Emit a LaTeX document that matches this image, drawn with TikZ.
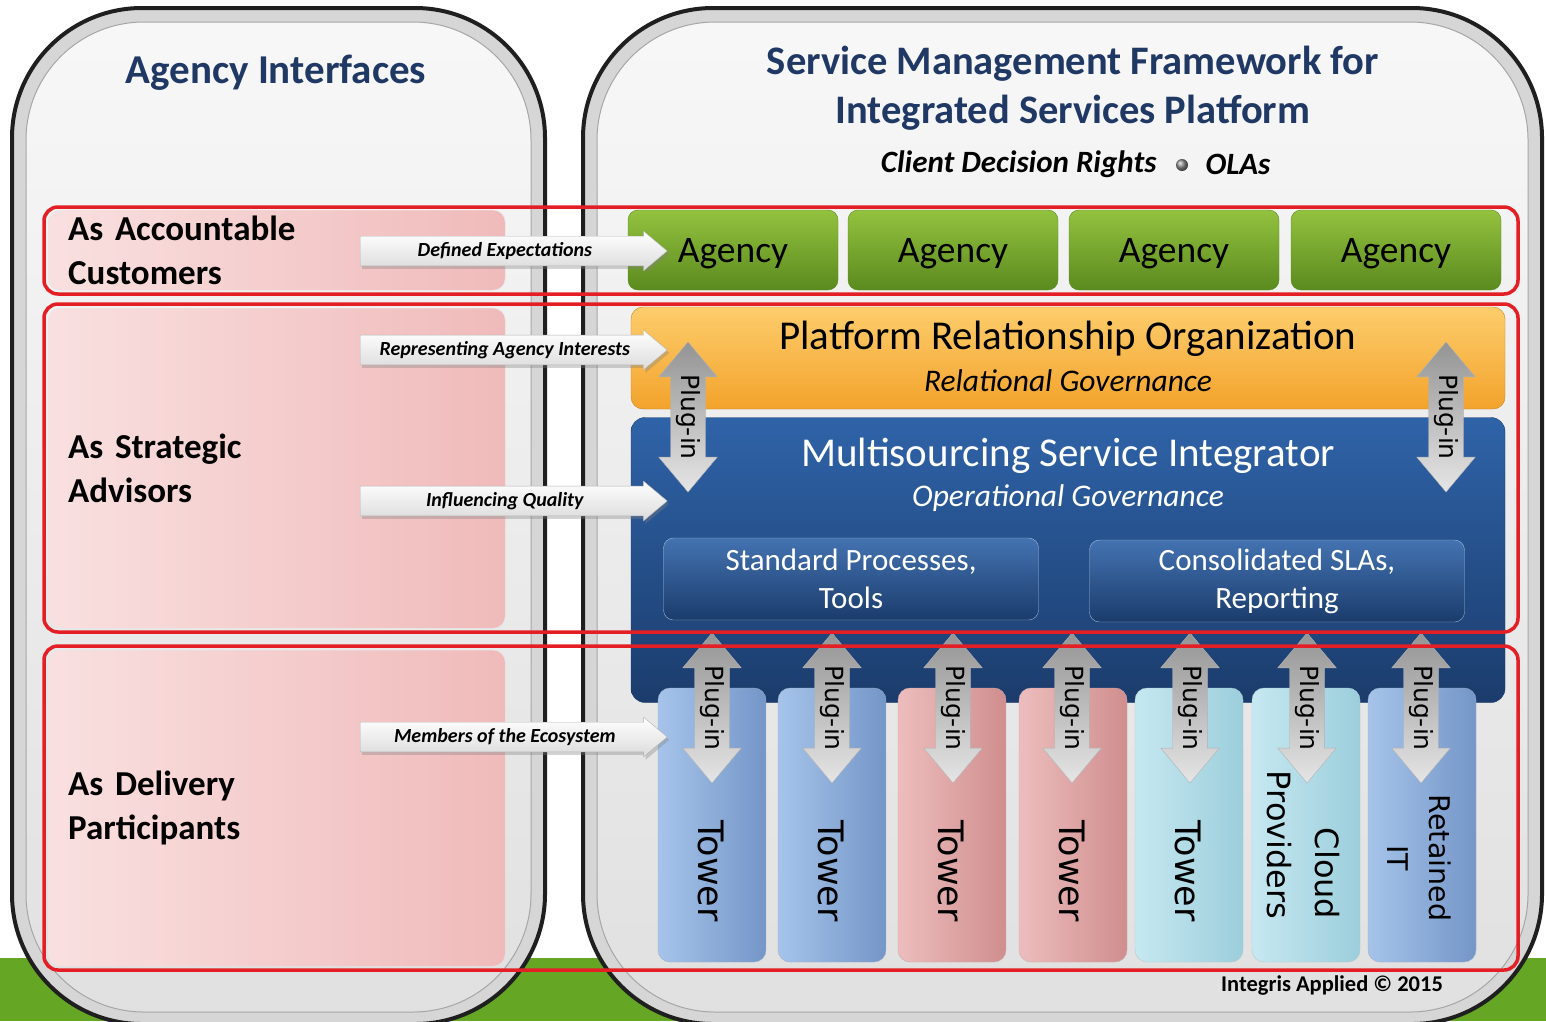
\documentclass[tikz,border=0pt]{standalone}
\usepackage{fontspec}
\setmainfont{Carlito}
\newfontfamily\towerfont{DejaVu Sans}
\usetikzlibrary{shapes.arrows,shadows}

\definecolor{titleblue}{HTML}{1F3864}
\definecolor{bandgreen}{HTML}{65A725}
\definecolor{framered}{HTML}{E31E24}
\definecolor{pinklight}{HTML}{F9E0E0}
\definecolor{pinkdark}{HTML}{F0BABA}
\definecolor{agencylight}{HTML}{93C23F}
\definecolor{agencydark}{HTML}{5B8A1F}
\definecolor{orangetop}{HTML}{FDCD6C}
\definecolor{orangebot}{HTML}{F3A32C}
\definecolor{msitop}{HTML}{2F63A8}
\definecolor{msibot}{HTML}{1B3C6C}
\definecolor{bluel}{HTML}{A6C4EA}
\definecolor{bluer}{HTML}{7496C8}
\definecolor{pinkl}{HTML}{EDBDBD}
\definecolor{pinkr}{HTML}{D08E8E}
\definecolor{cyanl}{HTML}{C6E8F1}
\definecolor{cyanr}{HTML}{9CCEDC}

\begin{document}
\begin{tikzpicture}[x=1pt, y=-1pt,
    panel/.style={draw=black!88, line width=4pt, rounded corners=130pt, fill=black!16},
    panelrim/.style={draw=black!35, line width=1pt, rounded corners=118pt, top color=black!3, bottom color=black!12},
    redframe/.style={draw=framered, line width=3.5pt, rounded corners=14pt},
    rolebox/.style={anchor=north west, rounded corners=12pt, draw=black!10, left color=pinklight, right color=pinkdark,
        text width=417pt, inner xsep=20pt, align=left, font=\fontsize{35}{44}\selectfont\bfseries},
    flowarrow/.style={single arrow, anchor=tail, minimum height=307pt, single arrow head extend=5pt,
        single arrow tip angle=80, inner ysep=6pt, draw=black!30, top color=white, bottom color=black!14,
        drop shadow={shadow xshift=2pt, shadow yshift=-3pt, opacity=.35},
        font=\fontsize{20}{22}\selectfont\bfseries\itshape},
    agencybox/.style={minimum width=210pt, minimum height=80pt, rounded corners=10pt, draw=agencydark,
        top color=agencylight, bottom color=agencydark, text depth=0pt, font=\fontsize{37.5}{40}\selectfont},
    subbox/.style={minimum width=375pt, minimum height=82pt, rounded corners=10pt, draw=white!55!msitop,
        top color=msitop!90!white, bottom color=msibot, text=white, align=center, font=\fontsize{31}{38}\selectfont},
    towerbox/.style={minimum width=108pt, minimum height=274pt, rounded corners=12pt, draw=#1r!80!black!60,
        left color=#1l, right color=#1r},
    towertext/.style={rotate=-90, align=right, font=\towerfont\fontsize{32}{48}\selectfont},
    plugin/.style={double arrow, rotate=-90, minimum height=150pt, double arrow head extend=12pt,
        double arrow tip angle=80, inner ysep=5pt, draw=black!30, top color=black!42, bottom color=black!10,
        font=\towerfont\fontsize{25}{26}\selectfont}
  ]
  \useasboundingbox (0,0) rectangle (1546,1021);
  \clip (0,0) rectangle (1546,1021);

  \fill[bandgreen] (0,958) rectangle (1546,1021);

  \draw[panel] (12,8) rectangle (545,1024);
  \draw[panelrim] (26,22) rectangle (531,1012);
  \draw[panel] (583,8) rectangle (1542,1024);
  \draw[panelrim] (597,22) rectangle (1528,1012);

  \node[font=\fontsize{41}{44}\selectfont\bfseries, text=titleblue] (leftttl) at (276,73) {Agency Interfaces};
  \node[font=\fontsize{40.5}{49}\selectfont\bfseries, text=titleblue, align=center] (rightttl) at (1073,88)
      {Service Management Framework for\\Integrated Services Platform};
  \node[font=\fontsize{31}{32}\selectfont\bfseries\itshape, anchor=east] (rights) at (1160,164) {Client Decision Rights};
  \node[circle, minimum size=12pt, inner sep=0pt, ball color=black!45] (dot) at (1182,165) {};
  \node[font=\fontsize{31}{32}\selectfont\bfseries\itshape, anchor=west] (olas) at (1202,164) {OLAs};

  \node[rolebox, minimum height=80pt] (customers) at (48,210) {As Accountable\\Customers};
  \node[rolebox, minimum height=320pt] (advisors) at (48,308) {As Strategic\\Advisors};
  \node[rolebox, minimum height=316pt] (participants) at (48,650) {As Delivery\\Participants};

  \foreach \i/\x in {1/733, 2/953, 3/1174, 4/1396}
    \node[agencybox] (agency\i) at (\x,250) {Agency};

  \node[minimum width=874pt, minimum height=102pt, rounded corners=12pt, draw=orangebot!80!black,
      top color=orangetop, bottom color=orangebot] (pro) at (1068,358) {};
  \node[font=\fontsize{41}{44}\selectfont] (protitle) at (1068,339) {Platform Relationship Organization};
  \node[font=\fontsize{31.5}{33}\selectfont\itshape] (prosub) at (1068,381) {Relational Governance};

  \node[minimum width=874pt, minimum height=285pt, rounded corners=14pt, draw=msibot,
      top color=msitop, bottom color=msibot] (msi) at (1068,560) {};
  \node[font=\fontsize{41}{44}\selectfont, text=white] (msititle) at (1068,456) {Multisourcing Service Integrator};
  \node[font=\fontsize{31.5}{33}\selectfont\itshape, text=white] (msisub) at (1068,498) {Operational Governance};
  \node[subbox] (processes) at (851,579) {Standard Processes,\\Tools};
  \node[subbox] (slas) at (1277,581) {Consolidated SLAs,\\Reporting};

  \foreach \i/\x/\c in {1/712/blue, 2/832/blue, 3/952/pink, 4/1073/pink, 5/1189/cyan, 6/1306/cyan, 7/1422/blue}
    \node[towerbox=\c] (tower\i) at (\x,825) {};
  \foreach \i/\x in {1/711, 2/831, 3/951, 4/1072, 5/1188}
    \node[towertext, font=\towerfont\fontsize{35}{40}\selectfont] at (\x,871) {Tower};
  \node[towertext] (cloud) at (1303,845) {Cloud\\Providers};
  \node[towertext, align=center, font=\towerfont\fontsize{28.5}{42}\selectfont] (retained) at (1419,858) {Retained\\IT};

  \foreach \i/\x in {1/712, 2/832, 3/953, 4/1072, 5/1190, 6/1307, 7/1421}
    \node[plugin] (plug\i) at (\x,708) {Plug-in};
  \node[plugin] (plugl) at (688,417) {Plug-in};
  \node[plugin] (plugr) at (1446,417) {Plug-in};

  \node[flowarrow] (expect) at (360,251) {Defined Expectations};
  \node[flowarrow] (interests) at (360,350) {Representing Agency Interests};
  \node[flowarrow] (quality) at (360,501) {Influencing Quality};
  \node[flowarrow] (members) at (360,737) {Members of the Ecosystem};

  \draw[redframe] (44,207) rectangle (1518,294);
  \draw[redframe] (44,304) rectangle (1518,632);
  \draw[redframe] (44,646) rectangle (1518,970);

  \node[font=\fontsize{22.5}{24}\selectfont\bfseries] (copy) at (1332,985) {Integris Applied © 2015};
\end{tikzpicture}
\end{document}
